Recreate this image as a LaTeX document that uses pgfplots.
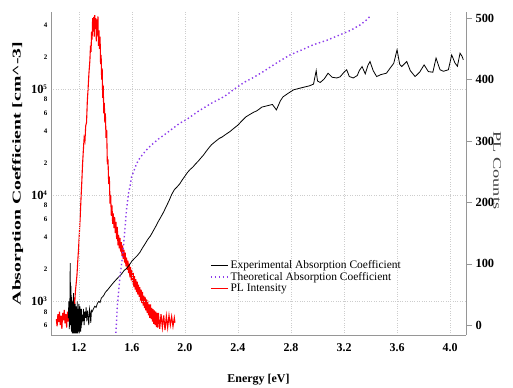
\documentclass[border=0pt]{standalone}
\usepackage{pgfplots}
\pgfplotsset{compat=1.18}
\usepackage{fontspec}
\setmainfont{Liberation Serif}
\definecolor{theo}{RGB}{140,60,235}
\definecolor{axgray}{RGB}{150,150,150}
\definecolor{gridgray}{RGB}{205,205,205}
\definecolor{plred}{RGB}{255,0,0}

\pgfplotstableread{
E a
1.120 700
1.125 1000
1.128 550
1.132 900
1.135 2300
1.138 600
1.141 1400
1.144 520
1.147 1100
1.150 500
1.152 900
1.154 520
1.156 1000
1.158 500
1.160 1200
1.162 500
1.164 850
1.166 500
1.168 950
1.170 500
1.172 950
1.174 520
1.176 800
1.178 500
1.180 900
1.182 500
1.184 900
1.186 520
1.188 1000
1.190 500
1.192 850
1.194 520
1.196 800
1.198 560
1.200 950
1.202 500
1.204 880
1.206 520
1.208 900
1.210 560
1.212 800
1.214 520
1.216 850
1.218 560
1.220 850
1.222 600
1.225 750
1.230 650
1.235 850
1.240 600
1.245 800
1.250 700
1.255 880
1.260 650
1.265 820
1.270 720
1.275 600
1.280 850
1.285 780
1.290 630
1.295 820
1.300 800
1.310 850
1.320 900
1.330 880
1.340 960
1.350 1000
1.360 980
1.370 1080
1.380 1110
1.390 1150
1.400 1220
1.420 1300
1.440 1400
1.460 1500
1.480 1600
1.500 1700
1.520 1800
1.540 1950
1.560 2050
1.580 2200
1.600 2400
1.620 2550
1.640 2700
1.660 2900
1.680 3200
1.700 3500
1.720 3850
1.740 4150
1.760 4600
1.780 5100
1.800 5700
1.820 6300
1.840 7000
1.860 7900
1.880 8900
1.900 10200
1.920 11300
1.940 12000
1.960 12800
1.980 14000
2.000 15200
2.020 16500
2.040 17600
2.060 18500
2.080 19800
2.100 21000
2.120 22500
2.140 24000
2.160 26000
2.180 28000
2.200 30000
2.220 31500
2.240 33000
2.260 34500
2.280 35500
2.300 37000
2.320 38500
2.340 40000
2.360 42000
2.380 44000
2.400 46000
2.420 49000
2.440 52000
2.460 55000
2.480 57000
2.500 59000
2.520 61000
2.540 62500
2.560 65000
2.580 68000
2.620 70000
2.660 72000
2.690 64000
2.720 78000
2.740 85000
2.780 92000
2.820 99000
2.860 102000
2.900 105000
2.940 108000
2.970 112000
2.990 150000
3.000 120000
3.020 116000
3.050 125000
3.080 142000
3.110 130000
3.145 128000
3.170 131000
3.200 145000
3.220 153000
3.240 132000
3.270 128000
3.300 135000
3.315 150000
3.336 164000
3.360 140000
3.380 168000
3.396 183000
3.420 150000
3.446 132000
3.480 138000
3.520 142000
3.550 160000
3.575 176000
3.600 236000
3.620 172000
3.635 164000
3.673 183000
3.700 150000
3.736 132000
3.770 145000
3.804 170000
3.836 147000
3.870 145000
3.894 197000
3.924 153000
3.950 148000
3.987 153000
4.012 211000
4.037 177000
4.055 165000
4.075 219000
4.090 205000
4.100 190000
}\expdata

\pgfplotstableread{
E a
1.470 300
1.490 900
1.510 1710
1.530 2700
1.547 4700
1.560 7500
1.575 10500
1.585 12000
1.598 15000
1.615 17000
1.636 20000
1.660 22500
1.700 26000
1.736 29000
1.800 34000
1.862 38600
1.900 42000
1.962 48000
2.013 52000
2.100 62000
2.200 74000
2.300 86000
2.365 99000
2.450 117000
2.520 130000
2.591 147000
2.700 180000
2.792 211000
2.880 235000
2.968 263000
3.070 290000
3.170 327000
3.250 360000
3.321 405000
3.360 440000
3.396 487000
}\theodata

\pgfplotstableread{
E c
1.030 10
1.036 -2
1.042 18
1.048 5
1.054 22
1.060 0
1.066 15
1.072 -6
1.078 20
1.084 8
1.090 25
1.096 3
1.102 18
1.108 -4
1.114 22
1.120 6
1.126 28
1.132 10
1.138 30
1.144 14
1.150 35
1.156 22
1.162 45
1.168 32
1.174 55
1.180 68
1.186 82
1.192 105
1.198 125
1.204 150
1.210 175
1.216 205
1.222 232
1.228 262
1.234 285
1.240 305
1.246 300
1.252 325
1.258 330
1.264 365
1.270 386
1.276 410
1.283 430
1.288 455
1.292 445
1.296 478
1.300 465
1.304 500
1.308 478
1.312 502
1.316 470
1.320 505
1.324 482
1.328 500
1.332 462
1.336 498
1.340 472
1.344 503
1.348 455
1.352 480
1.356 450
1.360 470
1.364 425
1.368 440
1.372 400
1.376 418
1.380 370
1.384 390
1.388 345
1.392 362
1.396 330
1.400 345
1.405 305
1.410 318
1.415 262
1.420 270
1.425 230
1.430 242
1.435 198
1.440 212
1.445 178
1.450 195
1.455 165
1.460 182
1.465 158
1.470 176
1.475 150
1.480 168
1.485 140
1.490 160
1.495 130
1.500 147
1.505 125
1.510 142
1.515 120
1.520 135
1.525 113
1.530 130
1.535 108
1.540 123
1.545 102
1.550 118
1.555 96
1.560 110
1.565 90
1.570 105
1.575 85
1.580 100
1.585 78
1.590 95
1.595 73
1.600 90
1.605 68
1.610 85
1.615 62
1.620 80
1.625 58
1.630 75
1.635 54
1.640 71
1.645 50
1.650 66
1.655 46
1.660 62
1.665 40
1.670 58
1.675 36
1.680 54
1.685 32
1.690 48
1.695 28
1.700 46
1.705 24
1.710 42
1.715 20
1.720 40
1.725 16
1.730 34
1.735 12
1.740 34
1.745 10
1.750 28
1.755 6
1.760 26
1.765 2
1.770 24
1.775 0
1.780 22
1.785 -3
1.790 20
1.795 -4
1.800 20
1.810 -6
1.820 18
1.830 -4
1.840 16
1.850 -8
1.860 15
1.870 -4
1.880 16
1.890 0
1.900 14
1.910 -2
1.920 12
1.925 4
}\pldata

\begin{document}
\begin{tikzpicture}
% ---- right axis: PL counts ----
\begin{axis}[
 scale only axis, width=415bp, height=323bp,
 xmin=0.99, xmax=4.12, ymin=-16, ymax=510,
 axis x line=none,
 axis y line*=right,
 axis line style={axgray,-},
 ytick={0,100,200,300,400,500},
 tick align=outside,
 major tick length=6bp,
 ytick style={axgray, thin},
 /pgf/number format/assume math mode=true,
 yticklabel style={font=\fontsize{12.5}{13}\selectfont\bfseries},
 ylabel={\scalebox{1.6}[1]{PL Counts}},
 ylabel style={font=\fontsize{11.5}{12}\selectfont, text=black!75, at={(rel axis cs:1.075,0.51)}, anchor=center, rotate=180},
]
\addplot[plred, line width=1.1bp] table[x=E, y=c] {\pldata};
\end{axis}
% ---- left axis: absorption ----
\begin{axis}[
 scale only axis, width=415bp, height=323bp,
 xmin=0.99, xmax=4.12,
 ymode=log, ymin=483, ymax=536000,
 axis x line*=bottom, axis y line*=left,
 axis line style={axgray,-},
 xtick={1.2,1.6,2.0,2.4,2.8,3.2,3.6,4.0},
 ytick={1000,10000,100000},
 yticklabels={{10\textsuperscript{\fontsize{7}{7}\selectfont 3}},{10\textsuperscript{\fontsize{7}{7}\selectfont 4}},{10\textsuperscript{\fontsize{7}{7}\selectfont 5}}},
 extra y ticks={600,800,2000,4000,6000,8000,20000,40000,60000,80000,200000,400000},
 extra y tick labels={6,8,2,4,6,8,2,4,6,8,2,4},
 extra y tick style={grid=none, yticklabel style={font=\fontsize{7}{7}\selectfont\bfseries}},
 yminorticks=false,
 major tick length=0pt, minor tick length=0pt,
 xmajorgrids, ymajorgrids,
 major grid style={gridgray, dotted, line width=0.6bp},
 /pgf/number format/assume math mode=true,
 xticklabel style={font=\fontsize{12}{12}\selectfont\bfseries, yshift=-5bp, /pgf/number format/.cd, fixed, fixed zerofill, precision=1},
 yticklabel style={font=\fontsize{12.5}{13}\selectfont\bfseries},
 xlabel={Energy [eV]},
 xlabel style={font=\fontsize{12}{12}\selectfont\bfseries, at={(rel axis cs:0.5,-0.139)}, anchor=center},
 ylabel={\scalebox{1.65}[1]{Absorption Coefficient [cm\textasciicircum-3]}},
 ylabel style={font=\fontsize{12}{12}\selectfont\bfseries, at={(rel axis cs:-0.08,0.5)}, anchor=center},
 legend style={at={(rel axis cs:0.383,0.238)}, anchor=north west, draw=none, fill=none, font=\fontsize{11.5}{12}\selectfont, row sep=-1.5bp, inner sep=0pt},
 legend cell align=left,
]
\coordinate (SW) at (rel axis cs:0,0);
\coordinate (NE) at (rel axis cs:1,1);
\addplot[black, line width=0.8bp] table[x=E, y=a] {\expdata};
\addlegendentry{Experimental Absorption Coefficient}
\addplot[theo, line width=1.4bp, dash pattern=on 1.4bp off 2.6bp] table[x=E, y=a] {\theodata};
\addlegendentry{Theoretical Absorption Coefficient}
\addlegendimage{plred, line width=0.9bp}
\addlegendentry{PL Intensity}
\end{axis}
\pgfresetboundingbox
\path[use as bounding box] ([xshift=-51bp,yshift=-53bp]SW) rectangle ([xshift=47bp,yshift=12bp]NE);
\end{tikzpicture}
\end{document}
